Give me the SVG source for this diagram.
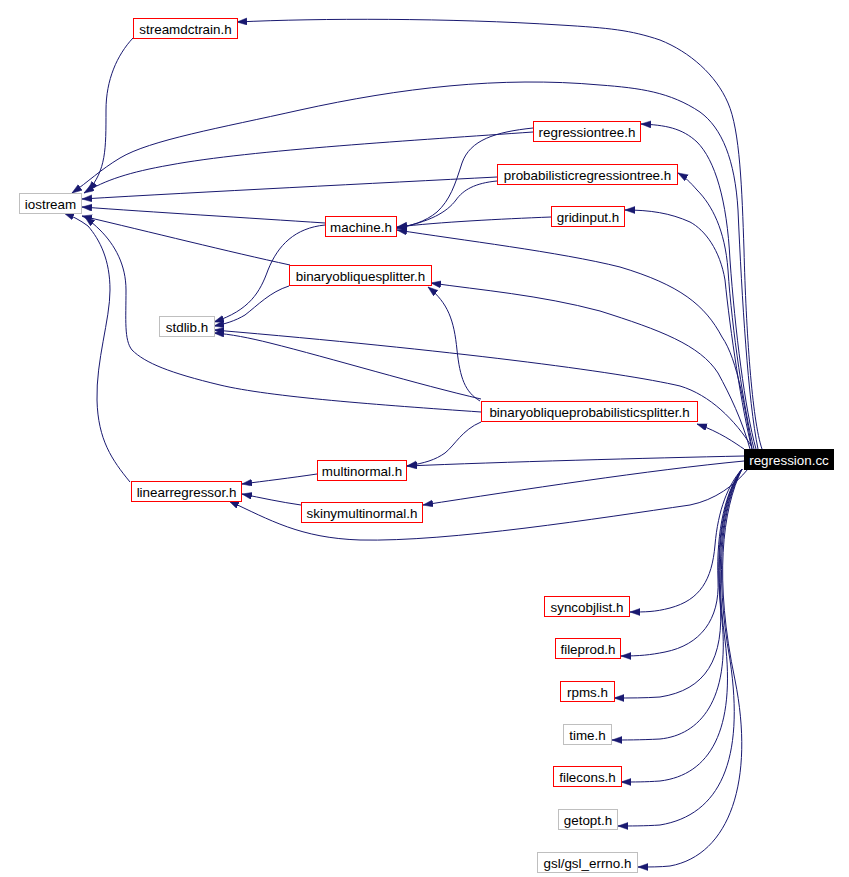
<svg xmlns="http://www.w3.org/2000/svg" width="849" height="877" viewBox="0 0 849 877">
<style>
.n rect{fill:#fff;stroke-width:1}
.r rect{stroke:#ff0000}
.g rect{stroke:#bfbfbf}
.n text{font-family:"Liberation Sans",Arial,Helvetica,sans-serif;font-size:13.4px;text-anchor:middle;fill:#000}
.k rect{fill:#000;stroke:#000}
.k text{fill:#fff}
.e path{fill:none;stroke:#191970;stroke-width:1;marker-end:url(#ah)}
</style>
<defs>
<marker id="ah" markerUnits="userSpaceOnUse" markerWidth="11" markerHeight="8" refX="10" refY="3.5" orient="auto">
<path d="M0,0 L10,3.5 L0,7 z" fill="#191970" stroke="#191970" stroke-width="0.5"/>
</marker>
</defs>
<rect width="849" height="877" fill="#fff"/>
<g id="edges" class="e">
<path d="M762,449 C752,420 746,330 744,250 C742,190 740,130 728,103 C716,75 690,52 660,40 C630,30 610,28 560,25 C450,18 320,18 237,22"/>
<path d="M758,449 C748,400 742,300 738,210 C735,160 722,128 700,112 C670,92 640,88 600,85 C500,76 400,88 300,110 C220,128 150,140 120,158 C100,170 88,182 72,193"/>
<path d="M133,38 C117,55 106,80 106,110 C106,150 106,170 88,191"/>
<path d="M533,132 C420,140 250,150 170,165 C130,172 105,180 84,193"/>
<path d="M533,128 C495,132 470,140 462,163 C455,185 450,200 437,212 C425,222 410,226 397,228"/>
<path d="M497,177 C380,183 200,192 82,199"/>
<path d="M497,181 C475,183 463,190 456,200 C447,212 430,222 397,228"/>
<path d="M551,217 C500,219 440,222 397,227"/>
<path d="M752,449 C745,410 738,360 722,337 C705,305 680,285 620,267 C560,252 460,240 397,230"/>
<path d="M325,223 C250,218 150,212 82,207"/>
<path d="M325,225 C295,228 278,245 268,270 C260,292 250,310 214,322"/>
<path d="M290,265 C230,252 150,232 82,216"/>
<path d="M289,286 C270,292 258,305 245,315 C235,321 225,324 214,326"/>
<path d="M750,449 C742,420 730,395 718,373 C700,345 660,330 600,311 C540,295 480,290 431,283"/>
<path d="M752,447 C735,420 710,395 680,386 C620,372 450,350 214,330"/>
<path d="M481,399 C420,385 330,358 270,343 C250,338 230,334 214,333"/>
<path d="M481,412 C380,405 270,397 220,385 C170,373 145,363 132,350 C124,340 126,320 126,290 C126,265 115,245 100,230 C95,225 90,221 85,217"/>
<path d="M480,401 C465,392 460,378 457,350 C454,320 448,303 428,287"/>
<path d="M744,449 C735,443 720,432 697,424"/>
<path d="M481,422 C462,430 455,445 445,453 C435,460 425,463 407,466"/>
<path d="M744,456 C650,458 500,462 407,466"/>
<path d="M744,461 C650,470 520,490 423,505"/>
<path d="M748,469 C735,485 715,500 690,505 C600,518 450,542 360,540 C300,538 270,520 229,501"/>
<path d="M317,474 C290,478 265,481 242,484"/>
<path d="M301,505 C280,502 262,498 242,494"/>
<path d="M130,482 C112,460 98,440 97,400 C96,360 110,320 110,290 C110,260 100,240 88,226 C80,220 72,216 64,213"/>
<path d="M742,469 C728,485 718,510 715,545 C712,580 700,600 670,608 C655,612 645,612 630,612"/>
<path d="M742,469 C726,490 716,530 718,580 C720,620 700,645 665,652 C650,655 640,656 621,656"/>
<path d="M742,469 C725,492 715,540 720,600 C725,660 705,690 660,697 C645,698 630,698 614,698"/>
<path d="M742,469 C724,495 714,550 722,620 C730,700 700,735 660,739 C640,740 625,740 612,740"/>
<path d="M742,469 C723,500 714,560 725,640 C736,730 710,775 660,781 C645,782 635,782 621,782"/>
<path d="M742,469 C722,505 714,570 730,660 C745,760 720,815 660,825 C645,826 630,826 618,826"/>
<path d="M742,469 C722,510 714,580 735,680 C755,780 730,855 670,866 C660,867 650,867 638,867"/>
<path d="M756,449 C745,410 735,330 730,260 C727,200 715,160 697,142 C682,128 665,125 641,124"/>
<path d="M754,449 C744,410 732,330 728,270 C725,230 712,205 697,190 C690,182 685,177 678,173"/>
<path d="M752,449 C742,410 730,330 725,280 C720,250 705,230 690,222 C670,213 650,210 625,210"/>
</g>
<g id="n_streamdctrain" class="n r"><rect x="133.5" y="18.5" width="104" height="20"/><text x="185.5" y="33.5">streamdctrain.h</text></g>
<g id="n_iostream" class="n g"><rect x="19.5" y="193.5" width="62" height="20"/><text x="50.5" y="208.5">iostream</text></g>
<g id="n_regressiontree" class="n r"><rect x="533.5" y="121.5" width="107" height="20"/><text x="587" y="136.5">regressiontree.h</text></g>
<g id="n_probabilisticregressiontree" class="n r"><rect x="497.5" y="164.5" width="180" height="20"/><text x="587.5" y="179.5">probabilisticregressiontree.h</text></g>
<g id="n_gridinput" class="n r"><rect x="551.5" y="206.5" width="73" height="20"/><text x="588" y="221.5">gridinput.h</text></g>
<g id="n_machine" class="n r"><rect x="325.5" y="216.5" width="71" height="20"/><text x="361" y="231.5">machine.h</text></g>
<g id="n_binaryobliquesplitter" class="n r"><rect x="289.5" y="265.5" width="142" height="20"/><text x="360.5" y="280.5">binaryobliquesplitter.h</text></g>
<g id="n_stdlib" class="n g"><rect x="159.5" y="316.5" width="55" height="20"/><text x="187" y="331.5">stdlib.h</text></g>
<g id="n_bops" class="n r"><rect x="481.5" y="401.5" width="216" height="20"/><text x="589.5" y="416.5">binaryobliqueprobabilisticsplitter.h</text></g>
<g id="n_multinormal" class="n r"><rect x="317.5" y="460.5" width="89" height="20"/><text x="362" y="475.5">multinormal.h</text></g>
<g id="n_linearregressor" class="n r"><rect x="131.5" y="481.5" width="110" height="20"/><text x="186.5" y="496.5">linearregressor.h</text></g>
<g id="n_skinymultinormal" class="n r"><rect x="301.5" y="502.5" width="121" height="20"/><text x="362" y="517.5">skinymultinormal.h</text></g>
<g id="n_regression" class="n k"><rect x="744.5" y="449.5" width="89" height="20"/><text x="789" y="464.5">regression.cc</text></g>
<g id="n_syncobjlist" class="n r"><rect x="544.5" y="596.5" width="85" height="20"/><text x="587" y="611.5">syncobjlist.h</text></g>
<g id="n_fileprod" class="n r"><rect x="555.5" y="638.5" width="65" height="20"/><text x="588" y="653.5">fileprod.h</text></g>
<g id="n_rpms" class="n r"><rect x="560.5" y="681.5" width="54" height="20"/><text x="587.5" y="696.5">rpms.h</text></g>
<g id="n_time" class="n g"><rect x="563.5" y="724.5" width="48" height="20"/><text x="587.5" y="739.5">time.h</text></g>
<g id="n_filecons" class="n r"><rect x="553.5" y="766.5" width="68" height="20"/><text x="587.5" y="781.5">filecons.h</text></g>
<g id="n_getopt" class="n g"><rect x="558.5" y="809.5" width="59" height="20"/><text x="588" y="824.5">getopt.h</text></g>
<g id="n_gsl_errno" class="n g"><rect x="537.5" y="852.5" width="100" height="20"/><text x="587.5" y="867.5">gsl/gsl_errno.h</text></g>
</svg>
